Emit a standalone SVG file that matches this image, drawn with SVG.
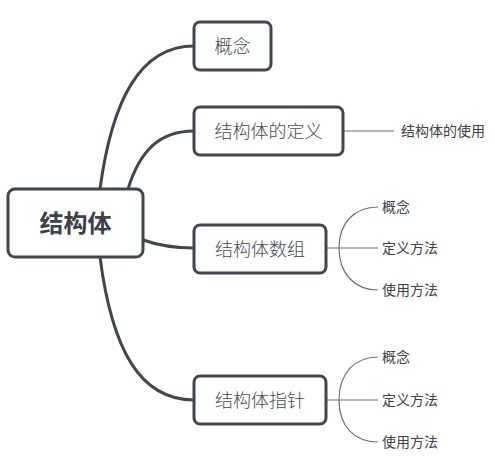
<svg xmlns="http://www.w3.org/2000/svg" width="495" height="459" viewBox="0 0 495 459">
<style>
.box{fill:#ffffff;stroke:#43464e;stroke-width:3}
.main{fill:none;stroke:#43464e;stroke-width:3;stroke-linecap:round}
.sub{fill:none;stroke:#6b6e74;stroke-width:1.2}
.t{font-family:"Noto Sans CJK SC","Liberation Sans",sans-serif;fill:#45484f;text-anchor:middle}
.t1{font-size:24px;font-weight:bold;fill:#3d4048}
.t2{font-size:18px;font-weight:300}
.t3{font-family:"Noto Sans CJK SC","Liberation Sans",sans-serif;font-size:14px;fill:#3d4048}
</style>
<rect width="495" height="459" fill="#ffffff"/>
<g id="connectors">
<path class="main" d="M100,189 C112,100 140,46 194,46"/>
<path class="main" d="M128,189 C140,150 160,131 194,131"/>
<path class="main" d="M143,240 C160,246 175,248 194,248"/>
<path class="main" d="M100,257 C112,350 140,400 194,400"/>
<path class="sub" d="M343,131 L394,131"/>
<path class="sub" d="M326,248 L378,248"/>
<path class="sub" d="M339,248 C339,222 355,207 378,207"/>
<path class="sub" d="M339,248 C339,274 355,290 378,290"/>
<path class="sub" d="M326,400 L378,400"/>
<path class="sub" d="M339,400 C339,373 355,357 378,357"/>
<path class="sub" d="M339,400 C339,427 355,442 378,442"/>
</g>
<g id="root">
<rect class="box" x="8" y="189" width="135" height="68" rx="7"/>
<text class="t t1" x="75.5" y="232">结构体</text>
</g>
<g id="n-concept">
<rect class="box" x="194" y="22" width="77" height="48" rx="6"/>
<text class="t t2" x="232.5" y="53">概念</text>
</g>
<g id="n-define">
<rect class="box" x="194" y="107" width="149" height="48" rx="6"/>
<text class="t t2" x="268.5" y="138">结构体的定义</text>
</g>
<g id="n-array">
<rect class="box" x="194" y="225" width="132" height="48" rx="6"/>
<text class="t t2" x="260" y="256">结构体数组</text>
</g>
<g id="n-pointer">
<rect class="box" x="194" y="376" width="132" height="48" rx="6"/>
<text class="t t2" x="260" y="407">结构体指针</text>
</g>
<g id="n-use">
<text class="t3" x="401" y="136">结构体的使用</text>
</g>
<g id="n-array-sub">
<text class="t3" x="382" y="212">概念</text>
<text class="t3" x="382" y="253">定义方法</text>
<text class="t3" x="382" y="295">使用方法</text>
</g>
<g id="n-pointer-sub">
<text class="t3" x="382" y="362">概念</text>
<text class="t3" x="382" y="405">定义方法</text>
<text class="t3" x="382" y="447">使用方法</text>
</g>
</svg>
